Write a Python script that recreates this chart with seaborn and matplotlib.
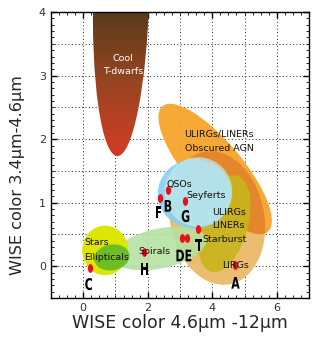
import numpy as np
import pandas as pd
import matplotlib
matplotlib.use("Agg")
import matplotlib.pyplot as plt
import seaborn as sns
from matplotlib.patches import Ellipse, PathPatch
from matplotlib.path import Path
from matplotlib.textpath import TextPath
from matplotlib.font_manager import FontProperties
from matplotlib.transforms import Affine2D, ScaledTranslation
from matplotlib.ticker import MultipleLocator

# y unit drawn ~1.97x longer than x unit, so shapes are given in x-units
K = 1.97

# regions: name, centre x, centre y (data), width, height (x-units), angle (deg), colour, alpha
regions = [
    ("tan",     4.15, 0.76, 4.18, 2.92, 101, "#ebbd6f", 1.0),
    ("agn",     4.09, 1.53, 5.08, 1.70, -50, "#f7a52a", 0.95),
    ("olive",   4.37, 0.67, 3.08, 1.48, 75,  "#c9b51c", 0.9),
    ("spirals", 2.37, 0.28, 2.95, 1.23, 12,  "#b5e1a2", 0.88),
    ("blue",    3.45, 1.14, 2.28, 2.15, 0,   "#86d0f0", 0.9),
    ("cyan",    3.57, 1.17, 2.10, 2.15, 0,   "#c4ebef", 0.7),
    ("stars",   0.68, 0.25, 1.42, 1.54, 0,   "#dde600", 1.0),
    ("ellip",   0.89, 0.14, 1.10, 0.80, 10,  "#5ab62c", 0.85),
]
overlap_colour = "#e4862c"  # obscured AGN over starburst region

# cool T-dwarfs region (gradient filled), data units
tdwarf_centre = (1.18, 4.3)
tdwarf_size = (1.74, 5.14)

# source positions (red dots)
dot_x = [0.20, 1.88, 2.62, 2.37, 3.17, 3.57, 3.05, 3.23, 4.71]
dot_y = [-0.02, 0.22, 1.20, 1.08, 1.03, 0.59, 0.44, 0.44, 0.02]

# class labels
label_text = ["ULIRGs/LINERs", "Obscured AGN", "QSOs", "Seyferts", "ULIRGs", "LINERs",
              "Starburst", "LIRGs", "Spirals", "Stars", "Ellipticals"]
label_x = [3.14, 3.14, 2.58, 3.20, 4.00, 4.00, 3.68, 4.30, 1.70, 0.03, 0.03]
label_y = [2.08, 1.86, 1.28, 1.12, 0.84, 0.64, 0.42, 0.02, 0.23, 0.37, 0.14]

# letters
letter_text = ["C", "H", "F", "B", "G", "DE", "T", "A"]
letter_x = [0.17, 1.90, 2.33, 2.63, 3.17, 3.12, 3.58, 4.72]
letter_y = [-0.28, -0.04, 0.85, 0.95, 0.79, 0.17, 0.33, -0.26]

sns.set_theme(style="ticks")
plt.rcParams['font.family'] = ['DejaVu Sans']

fig = plt.figure(figsize=(3.18, 3.43), dpi=100)
ax = fig.add_axes([0.16, 0.131, 0.812, 0.834])
ax.set_xlim(-1, 7)
ax.set_ylim(-0.5, 4)

# grid
for gx in range(-1, 8):
    ax.axvline(gx, color="#222222", ls=(0, (1, 2.5)), lw=0.7, zorder=0)
for gy in np.arange(-0.5, 4.01, 0.5):
    ax.axhline(gy, color="#222222", ls=(0, (1, 2.5)), lw=0.7, zorder=0)

# T-dwarfs gradient
td = Ellipse(tdwarf_centre, tdwarf_size[0], tdwarf_size[1], angle=-3, facecolor="none",
             edgecolor="none", transform=ax.transData)
ax.add_patch(td)
grad = np.linspace(0, 1, 256).reshape(-1, 1)
cmap = matplotlib.colors.LinearSegmentedColormap.from_list("td", ["#d43c26", "#9a4520", "#583b1c"])
im = ax.imshow(grad, extent=(0.2, 2.2, 1.7, 4.0), origin="lower", cmap=cmap, aspect="auto", zorder=1)
im.set_clip_path(td)

squash = Affine2D().scale(1, 1 / K) + ax.transData
patches = {}
for name, cx, cy, w, h, ang, col, a in regions:
    p = Ellipse((cx, cy * K), w, h, angle=ang, facecolor=col, edgecolor="none",
                alpha=a, zorder=2, transform=squash)
    ax.add_patch(p)
    patches[name] = p
    if name == "agn":
        # darker where the AGN band lies over the starburst region
        dark = Ellipse((cx, cy * K), w, h, angle=ang, facecolor=overlap_colour,
                       edgecolor="none", zorder=2, transform=squash)
        ax.add_patch(dark)
        dark.set_clip_path(patches["tan"])

# dots
oval = Path.unit_circle().transformed(Affine2D().scale(0.6, 1.0))
dots = pd.DataFrame({"x": dot_x, "y": dot_y})
sns.scatterplot(data=dots, x="x", y="y", ax=ax, color="#e8101a", marker=oval, s=40,
                linewidth=0, zorder=5)

ax.text(1.23, 3.17, "Cool\nT-dwarfs", color="white", fontsize=6.8, ha="center", va="center",
        linespacing=1.5, zorder=6)
for t, x, y in zip(label_text, label_x, label_y):
    ax.text(x, y, t, fontsize=6.8, color="#111111", ha="left", va="center", zorder=6)

# condensed bold letters
fp = FontProperties(family="DejaVu Sans", weight="bold")
for t, x, y in zip(letter_text, letter_x, letter_y):
    tp = TextPath((0, 0), t, size=1, prop=fp)
    ext = tp.get_extents()
    tr = (Affine2D().translate(-(ext.x0 + ext.x1) / 2, -(ext.y0 + ext.y1) / 2)
          .scale(11, 16) + ScaledTranslation(x, y, ax.transData))
    ax.add_patch(PathPatch(tp, facecolor="black", edgecolor="none", transform=tr, zorder=6))

ax.set_xticks([0, 2, 4, 6])
ax.set_yticks([0, 1, 2, 3, 4])
ax.xaxis.set_minor_locator(MultipleLocator(0.25))
ax.yaxis.set_minor_locator(MultipleLocator(0.1))
ax.tick_params(which="both", direction="in", top=True, right=True, colors="black",
               labelcolor="#333333", labelsize=8)
ax.tick_params(which="major", length=4, width=1)
ax.tick_params(which="minor", length=2, width=0.6)
for s in ax.spines.values():
    s.set_color("black")
    s.set_linewidth(1)
ax.set_xlabel("WISE color 4.6μm -12μm", fontsize=12.5, labelpad=1)
ax.set_ylabel("WISE color 3.4μm-4.6μm", fontsize=11.6)
ax.yaxis.set_label_coords(-0.10, 0.43)

fig.savefig("out.png", dpi=100)
